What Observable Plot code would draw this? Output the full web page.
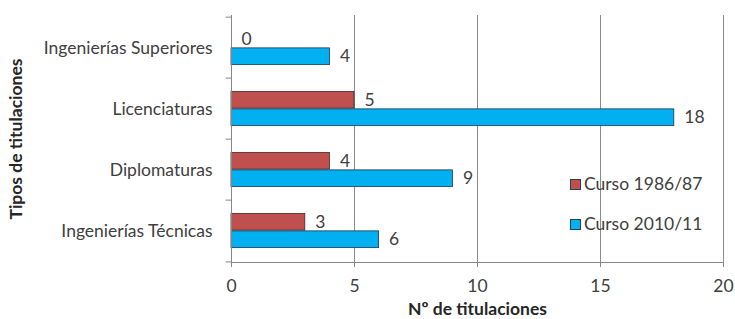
<!DOCTYPE html>
<html>
<head>
<meta charset="utf-8">
<script src="https://cdn.jsdelivr.net/npm/d3@7"></script>
<script src="https://cdn.jsdelivr.net/npm/@observablehq/plot@0.6"></script>
<style>
  html, body { margin: 0; padding: 0; background: #fff; }
  #wrap { position: relative; width: 735px; height: 319px; font-family: Lato, sans-serif; }
  g[aria-label="y-axis label"] text, g[aria-label="x-axis label"] text { font-weight: bold; fill: #262626; }
  #legend { position: absolute; left: 570px; top: 164px; font-size: 17.5px; color: #404040; line-height: 40px; }
  #legend .item { display: flex; align-items: center; height: 40px; white-space: nowrap; }
  #legend .sw { width: 9px; height: 9px; border: 1px solid #2a3f54; margin-right: 3px; }
</style>
</head>
<body>
<div id="wrap"><div id="legend"></div></div>
<script>
const categories = ["Ingenierías Superiores", "Licenciaturas", "Diplomaturas", "Ingenierías Técnicas"];
const series = ["Curso 1986/87", "Curso 2010/11"];
const values1986 = [0, 5, 4, 3];
const values2010 = [4, 18, 9, 6];
const xTicks = [0, 5, 10, 15, 20];
const colors = ["#C0504D", "#00B0F0"];

const rows1986 = categories.map((c, i) => ({category: c, series: series[0], value: values1986[i]}));
const rows2010 = categories.map((c, i) => ({category: c, series: series[1], value: values2010[i]}));

const marginTop = 15, marginBottom = 57, H = 319;
const half = (H - marginTop - marginBottom) / categories.length / 2;
const barH = 17.5;

const chart = Plot.plot({
  width: 735,
  height: H,
  marginLeft: 231,
  marginRight: 12,
  marginTop,
  marginBottom,
  style: {fontFamily: "Lato, sans-serif", fontSize: "17.5px", color: "#404040", background: "#fff"},
  x: {domain: [0, 20], ticks: xTicks},
  y: {domain: categories, padding: 0},
  marks: [
    Plot.gridX(xTicks.slice(1), {stroke: "#8c8c8c", strokeOpacity: 1}),
    Plot.barX(rows1986, {x: "value", y: "category", fill: colors[0], stroke: "#3a2a2a", strokeWidth: 0.8, insetTop: half - barH, insetBottom: half}),
    Plot.barX(rows2010, {x: "value", y: "category", fill: colors[1], stroke: "#1f3550", strokeWidth: 0.8, insetTop: half, insetBottom: half - barH}),
    Plot.ruleX([0], {stroke: "#868686"}),
    Plot.frame({anchor: "bottom", stroke: "#868686"}),
    Plot.ruleY(categories, {y: d => d, x1: -0.22, x2: 0, dy: -half, stroke: "#868686"}),
    Plot.ruleY(categories.slice(-1), {y: d => d, x1: -0.22, x2: 0, dy: half, stroke: "#868686"}),
    Plot.text(rows1986, {x: "value", y: "category", text: d => String(d.value), dx: 10, dy: -barH / 2, textAnchor: "start", fill: "#404040"}),
    Plot.text(rows2010, {x: "value", y: "category", text: d => String(d.value), dx: 10, dy: barH / 2, textAnchor: "start", fill: "#404040"}),
    Plot.axisX(xTicks, {tickSize: 5, tickPadding: 12, stroke: "#868686", fill: "#404040", label: "Nº de titulaciones", labelAnchor: "center", labelOffset: 52, labelArrow: "none"}),
    Plot.axisY({tickSize: 0, tickPadding: 19, fill: "#404040", label: "Tipos de titulaciones", labelAnchor: "center", labelOffset: 222})
  ]
});

document.getElementById("wrap").prepend(chart);

const legend = document.getElementById("legend");
series.forEach((s, i) => {
  const item = document.createElement("div");
  item.className = "item";
  const sw = document.createElement("span");
  sw.className = "sw";
  sw.style.background = colors[i];
  const t = document.createElement("span");
  t.textContent = s;
  item.append(sw, t);
  legend.append(item);
});
</script>
</body>
</html>
